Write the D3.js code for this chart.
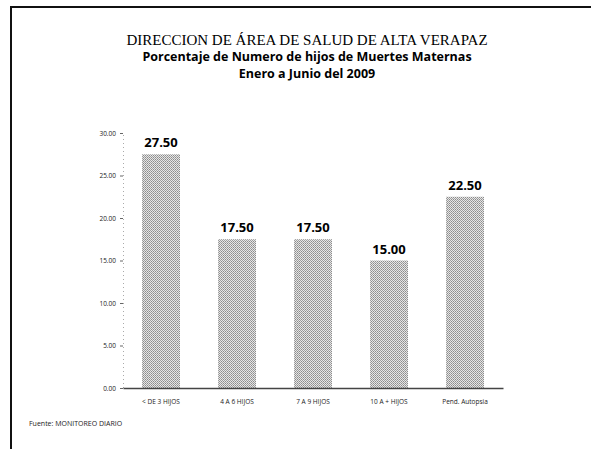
<!DOCTYPE html>
<html>
<head>
<meta charset="utf-8">
<script src="https://cdn.jsdelivr.net/npm/d3@7"></script>
<style>
  body { margin: 0; background: #fff; }
  svg { display: block; }
</style>
</head>
<body>
<div id="vis"></div>
<script>
// chart data
const categories = ["< DE 3 HIJOS", "4 A 6 HIJOS", "7 A 9 HIJOS", "10 A + HIJOS", "Pend. Autopsia"];
const values = [27.5, 17.5, 17.5, 15.0, 22.5];
const yTicks = [0, 5, 10, 15, 20, 25, 30];

const FRAME_WIDTH = 591;
const FRAME_HEIGHT = 449;
const MARGINS = {left: 123, right: 88, top: 133, bottom: 61};

const VIS_WIDTH = FRAME_WIDTH - MARGINS.left - MARGINS.right;
const VIS_HEIGHT = FRAME_HEIGHT - MARGINS.top - MARGINS.bottom;

const FRAME = d3.select("#vis")
  .append("svg")
    .attr("width", FRAME_WIDTH)
    .attr("height", FRAME_HEIGHT);

// halftone-ish fill like the scanned bars
const defs = FRAME.append("defs");
const pat = defs.append("pattern")
    .attr("id", "dots")
    .attr("width", 2).attr("height", 2)
    .attr("patternUnits", "userSpaceOnUse");
pat.append("rect").attr("width", 2).attr("height", 2).attr("fill", "#e6e6e6");
pat.append("rect").attr("width", 1).attr("height", 1).attr("fill", "#8c8c8c");
pat.append("rect").attr("x", 1).attr("y", 1).attr("width", 1).attr("height", 1).attr("fill", "#a0a0a0");

// page border (top + left)
FRAME.append("line")
    .attr("x1", 10).attr("x2", FRAME_WIDTH).attr("y1", 7).attr("y2", 7)
    .attr("stroke", "#111").attr("stroke-width", 2);
FRAME.append("line")
    .attr("x1", 11).attr("x2", 11).attr("y1", 6).attr("y2", FRAME_HEIGHT)
    .attr("stroke", "#111").attr("stroke-width", 2);

// titles
const CX = 307;
FRAME.append("text")
    .attr("x", CX).attr("y", 45)
    .attr("text-anchor", "middle")
    .style("font-family", "Liberation Serif, serif")
    .style("font-size", "15px")
    .text("DIRECCION DE ÁREA DE SALUD DE ALTA VERAPAZ");
FRAME.append("text")
    .attr("x", CX).attr("y", 61)
    .attr("text-anchor", "middle")
    .style("font-family", "Open Sans, sans-serif")
    .style("font-weight", "bold")
    .style("font-size", "12.5px")
    .text("Porcentaje de Numero de hijos de Muertes Maternas");
FRAME.append("text")
    .attr("x", CX).attr("y", 78)
    .attr("text-anchor", "middle")
    .style("font-family", "Open Sans, sans-serif")
    .style("font-weight", "bold")
    .style("font-size", "12.5px")
    .text("Enero a Junio del 2009");

// scales
const X_SCALE = d3.scaleBand()
    .domain(categories)
    .range([0, VIS_WIDTH])
    .paddingInner(0.5)
    .paddingOuter(0.25);

const Y_SCALE = d3.scaleLinear()
    .domain([0, 30])
    .range([VIS_HEIGHT, 0]);

const G = FRAME.append("g")
    .attr("transform", "translate(" + MARGINS.left + "," + MARGINS.top + ")");

// bars
G.selectAll(".bar")
  .data(values)
  .enter()
  .append("rect")
    .attr("class", "bar")
    .attr("x", (d, i) => X_SCALE(categories[i]))
    .attr("y", (d) => Y_SCALE(d))
    .attr("width", X_SCALE.bandwidth())
    .attr("height", (d) => VIS_HEIGHT - Y_SCALE(d))
    .attr("fill", "url(#dots)");

// value labels
G.selectAll(".val")
  .data(values)
  .enter()
  .append("text")
    .attr("class", "val")
    .attr("x", (d, i) => X_SCALE(categories[i]) + X_SCALE.bandwidth() / 2)
    .attr("y", (d) => Y_SCALE(d) - 7)
    .attr("text-anchor", "middle")
    .style("font-family", "Open Sans, sans-serif")
    .style("font-weight", "bold")
    .style("font-size", "13px")
    .text((d) => d.toFixed(2));

// y axis
const yAxis = G.append("g")
    .call(d3.axisLeft(Y_SCALE).tickValues(yTicks).tickFormat(d3.format(".2f")).tickSize(3).tickPadding(4));
yAxis.select(".domain")
    .attr("stroke", "#aaa")
    .attr("stroke-dasharray", "1,3");
yAxis.selectAll(".tick line").attr("stroke", "#666");
yAxis.selectAll(".tick text")
    .style("font-family", "Open Sans, sans-serif")
    .style("font-size", "6.5px")
    .attr("fill", "#222");

// x axis
const xAxis = G.append("g")
    .attr("transform", "translate(0," + VIS_HEIGHT + ")")
    .call(d3.axisBottom(X_SCALE).tickSize(0).tickPadding(11));
xAxis.select(".domain").attr("stroke", "#444").attr("stroke-width", 1.5);
xAxis.selectAll(".tick text")
    .style("font-family", "Open Sans, sans-serif")
    .style("font-size", "6.5px")
    .attr("fill", "#222");

// source note
FRAME.append("text")
    .attr("x", 29).attr("y", 426)
    .style("font-family", "Open Sans, sans-serif")
    .style("font-size", "7px")
    .attr("fill", "#222")
    .text("Fuente:  MONITOREO DIARIO");
</script>
</body>
</html>
